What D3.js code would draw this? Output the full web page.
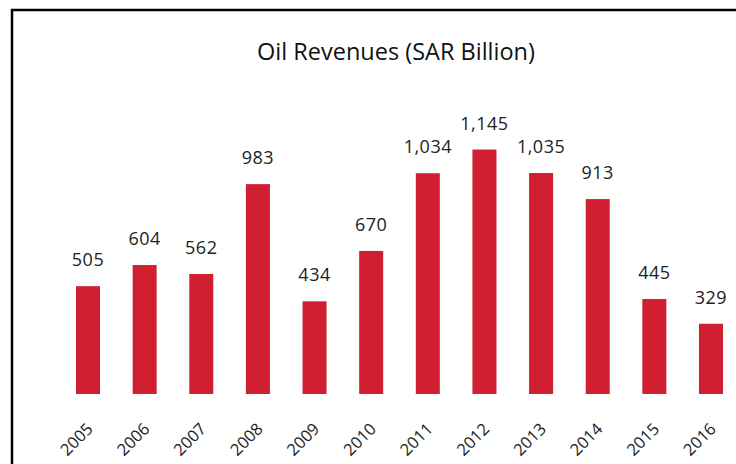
<!DOCTYPE html>
<html>
<head>
<meta charset="utf-8">
<script src="https://cdn.jsdelivr.net/npm/d3@7"></script>
<style>
  body { margin: 0; background: #fff; }
</style>
</head>
<body>
<div id="chart"></div>
<script>
var years = ["2005", "2006", "2007", "2008", "2009", "2010", "2011", "2012", "2013", "2014", "2015", "2016"];
var revenues = [505, 604, 562, 983, 434, 670, 1034, 1145, 1035, 913, 445, 329];
var title = "Oil Revenues (SAR Billion)";

function main() {
    var canvasWidth = 736;
    var canvasHeight = 464;
    var baseY = 394;

    var svg = d3.select("#chart").append("svg")
        .attr("width", canvasWidth)
        .attr("height", canvasHeight);

    // frame, cut off on the right and bottom like the original
    svg.append("rect")
        .attr("x", 12)
        .attr("y", 10)
        .attr("width", 800)
        .attr("height", 600)
        .attr("fill", "none")
        .attr("stroke", "#000")
        .attr("stroke-width", 2.5);

    svg.append("text")
        .attr("x", 396)
        .attr("y", 60)
        .attr("text-anchor", "middle")
        .attr("font-family", "Open Sans")
        .attr("font-size", "23.5px")
        .attr("font-weight", 500)
        .attr("fill", "#111")
        .text(title);

    var data = years.map(function(y, i) { return {year: y, value: revenues[i]}; });

    var xScale = d3.scaleBand()
        .domain(years)
        .range([59.7, 739.3])
        .paddingInner(0.576)
        .paddingOuter(0.288);

    var yScale = d3.scaleLinear()
        .domain([0, 1200])
        .range([baseY, baseY - 256.2]);

    svg.selectAll(".bar")
        .data(data)
        .enter().append("rect")
        .attr("class", "bar")
        .attr("x", function(d) { return xScale(d.year); })
        .attr("y", function(d) { return yScale(d.value); })
        .attr("width", xScale.bandwidth())
        .attr("height", function(d) { return baseY - yScale(d.value); })
        .attr("fill", "#cf1f30");

    var fmt = d3.format(",");
    svg.selectAll(".val")
        .data(data)
        .enter().append("text")
        .attr("class", "val")
        .attr("x", function(d) { return xScale(d.year) + xScale.bandwidth() / 2; })
        .attr("y", function(d) { return yScale(d.value) - 20; })
        .attr("text-anchor", "middle")
        .attr("font-family", "Open Sans")
        .attr("font-size", "18px")
        .attr("letter-spacing", "0.5px")
        .attr("fill", "#222")
        .text(function(d) { return fmt(d.value); });

    // x axis labels, rotated
    var xAxis = svg.append("g")
        .attr("transform", "translate(0," + baseY + ")")
        .call(d3.axisBottom(xScale).tickSize(0).tickPadding(0));
    xAxis.select(".domain").remove();
    xAxis.selectAll("text")
        .attr("font-family", "Open Sans")
        .attr("font-size", "16.5px")
        .attr("fill", "#222")
        .attr("text-anchor", "end")
        .attr("dy", 0)
        .attr("transform", "translate(6,36) rotate(-45)");
}
main();
</script>
</body>
</html>
